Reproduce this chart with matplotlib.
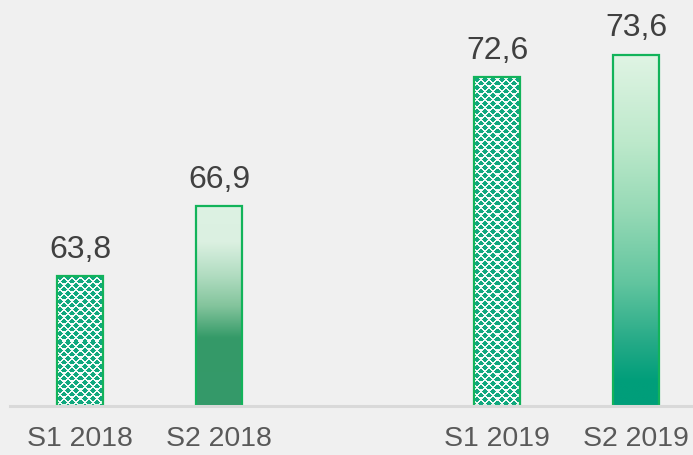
import numpy as np
import matplotlib
matplotlib.use("Agg")
import matplotlib.pyplot as plt
from matplotlib.colors import LinearSegmentedColormap, to_rgb

# data
categories = ["S1 2018", "S2 2018", "S1 2019", "S2 2019"]
positions = [0, 1, 3, 4]
values = [63.8, 66.9, 72.6, 73.6]
labels = ["63,8", "66,9", "72,6", "73,6"]
styles = ["pattern", "grad2018", "pattern", "grad2019"]

plt.rcParams["font.family"] = ["Liberation Sans", "DejaVu Sans"]

bg = "#f0f0f0"
edge = "#12b35a"
width = 0.324
ymin, ymax = 58.035, 76.08

fig = plt.figure(figsize=(6.93, 4.56), dpi=100, facecolor=bg)
ax = fig.add_axes([10 / 693, 49 / 456, 683 / 693, 407 / 456])
ax.set_facecolor(bg)
ax.set_xlim(-0.5036, 4.41)
ax.set_ylim(ymin, ymax)

# gradients (top -> bottom)
cmaps = {
    "grad2018": LinearSegmentedColormap.from_list("g18", [
        (0.0, "#ddf2e3"), (0.18, "#dbf0e1"), (0.35, "#b0dcc0"),
        (0.5, "#83c49c"), (0.66, "#349a68"), (1.0, "#35996a")]),
    "grad2019": LinearSegmentedColormap.from_list("g19", [
        (0.0, "#e0f4e4"), (0.25, "#bde9cb"), (0.45, "#95d9b5"),
        (0.65, "#62c59f"), (0.82, "#25aa87"), (0.93, "#009e7a"), (1.0, "#009e7a")]),
}

# staggered plus tile for the patterned bars
tile = np.array([
    [0, 0, 1, 1, 0, 0, 0, 0],
    [0, 1, 1, 1, 1, 0, 0, 0],
    [1, 1, 1, 1, 1, 1, 0, 0],
    [0, 1, 1, 1, 1, 0, 0, 0],
    [0, 0, 1, 1, 0, 0, 1, 1],
    [1, 0, 0, 0, 0, 1, 1, 1],
    [1, 1, 0, 0, 1, 1, 1, 1],
    [1, 0, 0, 0, 0, 1, 1, 1],
])
green = np.array(to_rgb("#10a87e"))
white = np.array(to_rgb("#f4fbf8"))

fig.canvas.draw()
to_px = ax.transData

for x, v, s, lab in zip(positions, values, styles, labels):
    x0, x1 = x - width / 2, x + width / 2
    ext = (x0, x1, ymin, v)
    rect = plt.Rectangle((x0, ymin), width, v - ymin, facecolor="none",
                         edgecolor=edge, linewidth=1.6, zorder=3)
    ax.add_patch(rect)
    if s == "pattern":
        p0 = to_px.transform((x0, ymin))
        p1 = to_px.transform((x1, v))
        w_px = int(round(p1[0] - p0[0]))
        h_px = int(round(p1[1] - p0[1]))
        reps = (h_px // tile.shape[0] + 1, w_px // tile.shape[1] + 1)
        mask = np.tile(tile, reps)[:h_px, :w_px]
        img = np.where(mask[..., None] == 1, green, white)
        im = ax.imshow(img, extent=ext, aspect="auto", interpolation="nearest",
                       origin="upper", zorder=2)
    else:
        grad = np.linspace(0, 1, 256)[:, None]
        im = ax.imshow(grad, extent=ext, aspect="auto", cmap=cmaps[s],
                       origin="upper", interpolation="bilinear", zorder=2)
    im.set_clip_path(rect)
    ax.annotate(lab, (x, v), xytext=(0, 14),
                textcoords="offset points", ha="center", va="baseline",
                fontsize=23, color="#404040")

ax.set_xticks(positions)
ax.set_xticklabels(categories, fontsize=20.5, color="#595959")
ax.tick_params(axis="x", length=0, pad=14)
ax.set_yticks([])
for side in ["top", "left", "right"]:
    ax.spines[side].set_visible(False)
ax.spines["bottom"].set_color("#d9d9d9")
ax.spines["bottom"].set_linewidth(2.2)
ax.spines["bottom"].set_zorder(4)

fig.savefig("out.png", dpi=100, facecolor=bg)
